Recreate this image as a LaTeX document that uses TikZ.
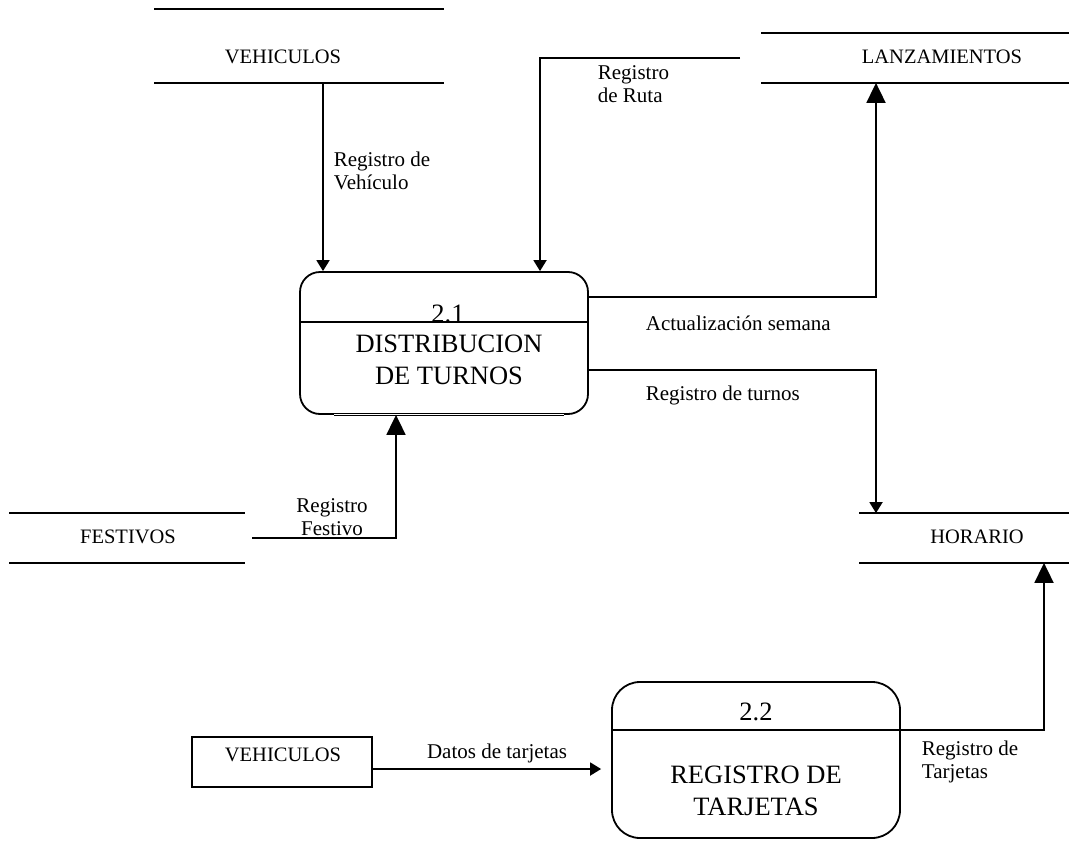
\documentclass[tikz,border=0pt]{standalone}
\usepackage{fontspec}
\setmainfont{Liberation Serif}
\usetikzlibrary{arrows.meta,calc}
\begin{document}
\begin{tikzpicture}[x=1pt,y=-1pt,
  line width=1.8pt,
  sm/.style={font=\fontsize{21}{23.5}\selectfont, inner sep=0pt},
  smc/.style={font=\fontsize{20.5}{23.5}\selectfont, inner sep=0pt},
  lg/.style={font=\fontsize{26.5}{32}\selectfont, inner sep=0pt},
  proc/.style={draw, inner sep=0pt},
  arrS/.style={-{Triangle[length=11pt,width=13pt]}},
  arrB/.style={-{Triangle[length=20pt,width=19pt]}},
]
\fill[white] (0,0) rectangle (1083,867);
\useasboundingbox (0,0) rectangle (1083,867);

% data stores
\node[minimum width=288pt, minimum height=72pt, inner sep=0pt] (veh) at (299,46) {};
\draw (veh.north west) -- (veh.north east) (veh.south west) -- (veh.south east);
\node[smc] (vehT) at (283,57) {VEHICULOS};

\node[minimum width=306pt, minimum height=48pt, inner sep=0pt] (lan) at (915,58) {};
\draw (lan.north west) -- (lan.north east) (lan.south west) -- (lan.south east);
\node[smc] (lanT) at (942,57) {LANZAMIENTOS};

\node[minimum width=208pt, minimum height=48pt, inner sep=0pt] (hor) at (964,538) {};
\draw (hor.north west) -- (hor.north east) (hor.south west) -- (hor.south east);
\node[smc] (horT) at (977,537) {HORARIO};

\node[minimum width=234pt, minimum height=48pt, inner sep=0pt] (fes) at (127,538) {};
\draw (fes.north west) -- (fes.north east) (fes.south west) -- (fes.south east);
\node[smc] (fesT) at (128,537) {FESTIVOS};

% external entity
\node[draw, minimum width=180pt, minimum height=50pt, inner sep=0pt] (vb) at (282,762) {};
\node[smc] (vbT) at (283,755) {VEHICULOS};

% process 2.1
\node[proc, rounded corners=20pt, minimum width=288pt, minimum height=142pt] (p1) at (444,343) {};
\draw (p1.west |- 0,322) -- (p1.east |- 0,322);
\draw[white, line width=2.6pt] ([xshift=-110pt]p1.south) -- ([xshift=120pt]p1.south);
\draw[line width=0.7pt] ([xshift=-110pt]p1.south) -- ([xshift=120pt]p1.south);
\node[lg] (p1n) at (448,314) {2.1};
\node[lg, align=center] (p1t) at (449,360) {DISTRIBUCION\\DE TURNOS};

% process 2.2
\node[proc, rounded corners=28pt, minimum width=288pt, minimum height=156pt] (p2) at (756,760) {};
\draw (p2.west |- 0,730) -- (p2.east |- 0,730);
\node[lg] (p2n) at (756,712) {2.2};
\node[lg, align=center] (p2t) at (756,791) {REGISTRO DE\\TARJETAS};

% flows
\draw[arrS] ([xshift=24pt]veh.south) -- ([xshift=24pt]veh.south |- p1.north);
\node[sm, align=left, anchor=west] (lv) at (333,171) {Registro de\\Vehículo};

\coordinate (rutaE) at (740,58);
\draw[arrS] (rutaE) -| ([xshift=96pt]p1.north);
\node[sm, align=left, anchor=west] (lr) at (597,84) {Registro\\de Ruta};

\draw[arrB] ([shift={(0,-46)}]p1.east) -| ([xshift=-39pt]lan.south);
\node[sm, anchor=west] (la) at (645,323) {Actualización semana};

\draw[arrS] ([shift={(0,27)}]p1.east) -| ([xshift=-88pt]hor.north);
\node[sm, anchor=west] (lt) at (645,395) {Registro de turnos};

\coordinate (fesE) at (252,538);
\draw[arrB] (fesE) -| ([xshift=-48pt]p1.south);
\node[sm, align=center] (lf) at (332,517) {Registro\\Festivo};

\coordinate (dS) at ([shift={(0,7)}]vb.east);
\draw[arrS, shorten >=10pt] (dS) -- (dS -| p2.west);
\node[sm] (ld) at (497,753) {Datos de tarjetas};

\draw[arrB] ([shift={(0,-30)}]p2.east) -| ([xshift=80pt]hor.south);
\node[sm, align=left, anchor=west] (lj) at (921,762) {Registro de\\Tarjetas};
\end{tikzpicture}
\end{document}
